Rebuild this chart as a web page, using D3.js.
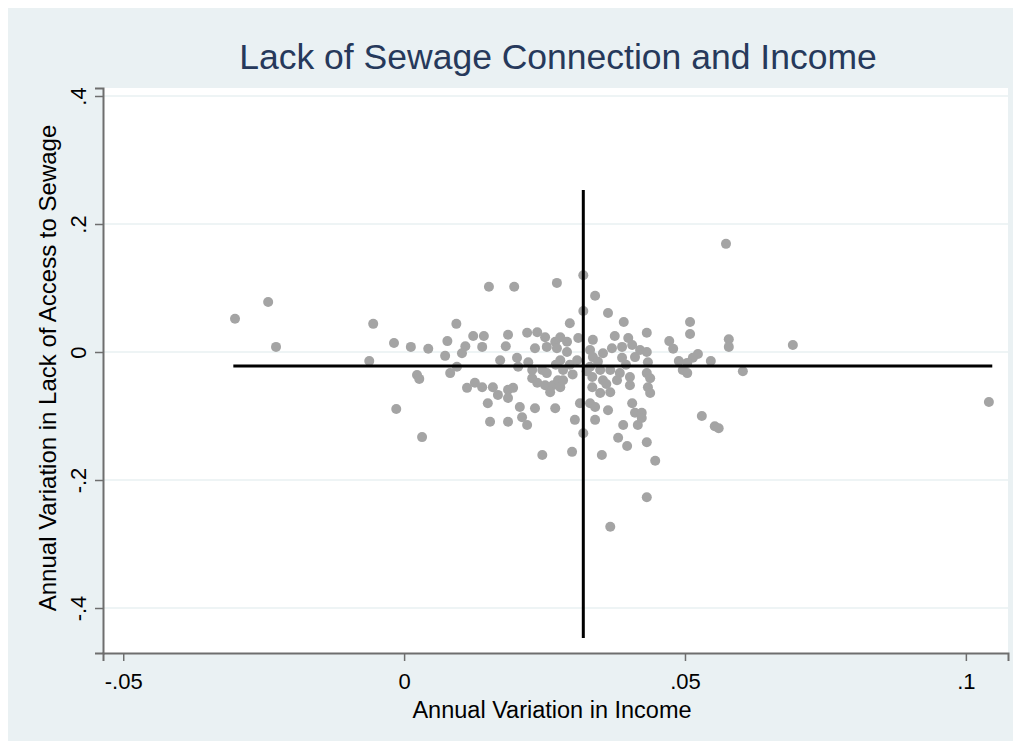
<!DOCTYPE html>
<html>
<head>
<meta charset="utf-8">
<script src="https://cdn.jsdelivr.net/npm/d3@7"></script>
<style>
  body { margin: 0; background: #ffffff; }
  svg { display: block; font-family: "Liberation Sans", Arial, sans-serif; }
</style>
</head>
<body>
<div id="chart"></div>
<script>
// values
var chartTitle = 'Lack of Sewage Connection and Income'
var xTitle = 'Annual Variation in Income'
var yTitle = 'Annual Variation in Lack of Access to Sewage'

var xTickValues = [-0.05, 0, 0.05, 0.1]
var xTickLabels = ['-.05', '0', '.05', '.1']
var yTickValues = [-0.4, -0.2, 0, 0.2, 0.4]
var yTickLabels = ['-.4', '-.2', '0', '.2', '.4']

var xDomain = [-0.0536, 0.1075]
var yDomain = [-0.4703, 0.4125]

// mean lines: [value, from, to]
var meanIncome = [0.0319, -0.4469, 0.2531]
var meanSewage = [-0.0219, -0.0304, 0.1047]

var income = [
  -0.0301, -0.0242, -0.0228, -0.0062, -0.0055, -0.0018, 0.0012, 0.0043, 0.0093, 0.0077,
  0.0073, 0.0109, 0.0103, 0.0094, 0.0082, 0.0023, 0.0027, 0.0112, -0.0014, 0.0032,
  0.0151, 0.0196, 0.0272, 0.0123, 0.0142, 0.0139, 0.0185, 0.0181, 0.0219, 0.0237,
  0.0251, 0.0233, 0.0254, 0.0269, 0.0278, 0.0272,
  0.0171, 0.0201, 0.0203, 0.0221, 0.0228, 0.0228, 0.0246, 0.0254, 0.0251, 0.0265,
  0.0274, 0.0278, 0.0237, 0.0260,
  0.0126, 0.0139, 0.0158, 0.0167, 0.0185, 0.0194, 0.0185, 0.0149, 0.0206, 0.0233,
  0.0269, 0.0210, 0.0153, 0.0185, 0.0219, 0.0246,
  0.0295, 0.0290, 0.0310, 0.0290, 0.0308, 0.0295, 0.0283, 0.0283, 0.0278,
  0.0319, 0.0340, 0.0319, 0.0363, 0.0391, 0.0432, 0.0375, 0.0399, 0.0336, 0.0370,
  0.0388, 0.0406, 0.0420, 0.0432, 0.0331, 0.0336, 0.0388, 0.0411, 0.0331, 0.0349,
  0.0367, 0.0384, 0.0402, 0.0432, 0.0335, 0.0354, 0.0379, 0.0335, 0.0349, 0.0367,
  0.0402, 0.0434, 0.0438, 0.0331, 0.0340, 0.0406, 0.0363, 0.0411, 0.0423, 0.0313,
  0.0304, 0.0340, 0.0416, 0.0390, 0.0319, 0.0381, 0.0397, 0.0432, 0.0299, 0.0352,
  0.0447, 0.0432, 0.0367, 0.0354, 0.0434, 0.0438, 0.0423,
  0.0325, 0.0345, 0.0300, 0.0270, 0.0360, 0.0395,
  0.0573, 0.0509, 0.0509, 0.0472, 0.0479, 0.0578, 0.0578, 0.0692, 0.0523, 0.0514,
  0.0489, 0.0504, 0.0546, 0.0496, 0.0504, 0.0603, 0.1041, 0.0530, 0.0553, 0.0560
]

var sewage = [
  0.052, 0.078, 0.008, -0.014, 0.044, 0.014, 0.008, 0.005, 0.044, 0.017,
  -0.006, 0.009, -0.002, -0.023, -0.033, -0.036, -0.042, -0.056, -0.089, -0.133,
  0.102, 0.102, 0.108, 0.025, 0.025, 0.008, 0.027, 0.009, 0.030, 0.031,
  0.023, 0.006, 0.008, 0.016, 0.023, 0.006,
  -0.013, -0.009, -0.023, -0.016, -0.028, -0.041, -0.028, -0.033, -0.052, -0.052,
  -0.044, -0.013, -0.048, -0.063,
  -0.048, -0.055, -0.055, -0.067, -0.059, -0.056, -0.072, -0.080, -0.086, -0.088,
  -0.088, -0.102, -0.109, -0.109, -0.114, -0.161,
  0.045, 0.016, 0.022, 0.000, -0.013, -0.020, -0.028, -0.044, -0.055,
  0.120, 0.088, 0.064, 0.061, 0.047, 0.030, 0.025, 0.022, 0.019, 0.006,
  0.008, 0.011, 0.003, 0.000, 0.003, -0.008, -0.009, -0.008, -0.023, -0.028,
  -0.028, -0.033, -0.039, -0.033, -0.039, -0.044, -0.044, -0.055, -0.064, -0.063,
  -0.052, -0.055, -0.064, -0.080, -0.086, -0.080, -0.091, -0.095, -0.095, -0.080,
  -0.106, -0.106, -0.114, -0.114, -0.127, -0.134, -0.147, -0.141, -0.156, -0.161,
  -0.170, -0.227, -0.273, -0.002, -0.016, -0.041, -0.103,
  -0.030, -0.015, -0.035, -0.020, -0.050, -0.020,
  0.169, 0.047, 0.028, 0.017, 0.005, 0.020, 0.008, 0.011, -0.003, -0.009,
  -0.014, -0.017, -0.014, -0.028, -0.033, -0.030, -0.078, -0.100, -0.116, -0.119
]

var points = income.map((d, i) => [d, sewage[i]])

var width = 1021
var height = 749
var plot = { left: 103, right: 1008, top: 88, bottom: 653 }

var svg = d3.select('#chart')
  .append('svg')
  .attr('width', width)
  .attr('height', height)

// graph region
svg.append('rect')
  .attr('x', 8)
  .attr('y', 8)
  .attr('width', width - 16)
  .attr('height', height - 16)
  .attr('fill', '#eaf1f3')

// plot region
svg.append('rect')
  .attr('x', plot.left)
  .attr('y', plot.top)
  .attr('width', plot.right - plot.left)
  .attr('height', plot.bottom - plot.top)
  .attr('fill', '#ffffff')

var x = d3.scaleLinear().domain(xDomain).range([plot.left, plot.right])
var y = d3.scaleLinear().domain(yDomain).range([plot.bottom, plot.top])

// grid lines
svg.append('g')
  .selectAll('line.grid')
  .data(yTickValues)
  .join('line')
    .attr('class', 'grid')
    .attr('x1', plot.left)
    .attr('x2', plot.right)
    .attr('y1', d => y(d))
    .attr('y2', d => y(d))
    .attr('stroke', '#e8f0f2')
    .attr('stroke-width', 1.6)

// points
svg.append('g')
  .selectAll('circle')
  .data(points)
  .join('circle')
    .attr('cx', d => x(d[0]))
    .attr('cy', d => y(d[1]))
    .attr('r', 5)
    .attr('fill', '#a4a4a4')

// mean lines
svg.append('line')
  .attr('x1', x(meanSewage[1]))
  .attr('x2', x(meanSewage[2]))
  .attr('y1', y(meanSewage[0]))
  .attr('y2', y(meanSewage[0]))
  .attr('stroke', '#000')
  .attr('stroke-width', 3)

svg.append('line')
  .attr('x1', x(meanIncome[0]))
  .attr('x2', x(meanIncome[0]))
  .attr('y1', y(meanIncome[1]))
  .attr('y2', y(meanIncome[2]))
  .attr('stroke', '#000')
  .attr('stroke-width', 3)

// axes
var xAxis = d3.axisBottom(x)
  .tickValues(xTickValues)
  .tickFormat((d, i) => xTickLabels[i])
  .tickSizeOuter(0)
  .tickSize(8)
  .tickPadding(12)

var gx = svg.append('g')
  .attr('transform', `translate(0, ${plot.bottom})`)
  .call(xAxis)
gx.select('.domain').attr('stroke', '#6e6e6e').attr('stroke-width', 2)
gx.selectAll('.tick line').attr('stroke', '#6e6e6e').attr('stroke-width', 1.5)
gx.selectAll('.tick text')
  .attr('font-size', 22)
  .attr('font-family', '"Liberation Sans", Arial, sans-serif')
  .attr('fill', '#000')

var yAxis = d3.axisLeft(y)
  .tickValues(yTickValues)
  .tickFormat((d, i) => yTickLabels[i])
  .tickSizeOuter(0)
  .tickSize(8)

var gy = svg.append('g')
  .attr('transform', `translate(${plot.left}, 0)`)
  .call(yAxis)
gy.select('.domain').attr('stroke', '#6e6e6e').attr('stroke-width', 2)
gy.selectAll('.tick line').attr('stroke', '#6e6e6e').attr('stroke-width', 1.5)
gy.selectAll('.tick text')
  .attr('font-size', 22)
  .attr('font-family', '"Liberation Sans", Arial, sans-serif')
  .attr('fill', '#000')
  .attr('text-anchor', 'middle')
  .attr('transform', 'rotate(-90)')
  .attr('x', 0)
  .attr('y', -17)
  .attr('dy', 0)

// titles
svg.append('text')
  .attr('x', 558)
  .attr('y', 69)
  .attr('text-anchor', 'middle')
  .attr('font-size', 35.5)
  .attr('fill', '#26395b')
  .text(chartTitle)

svg.append('text')
  .attr('x', 552)
  .attr('y', 718)
  .attr('text-anchor', 'middle')
  .attr('font-size', 23.5)
  .attr('fill', '#000')
  .text(xTitle)

svg.append('text')
  .attr('transform', 'translate(56, 368) rotate(-90)')
  .attr('text-anchor', 'middle')
  .attr('font-size', 24)
  .attr('fill', '#000')
  .text(yTitle)
</script>
</body>
</html>
